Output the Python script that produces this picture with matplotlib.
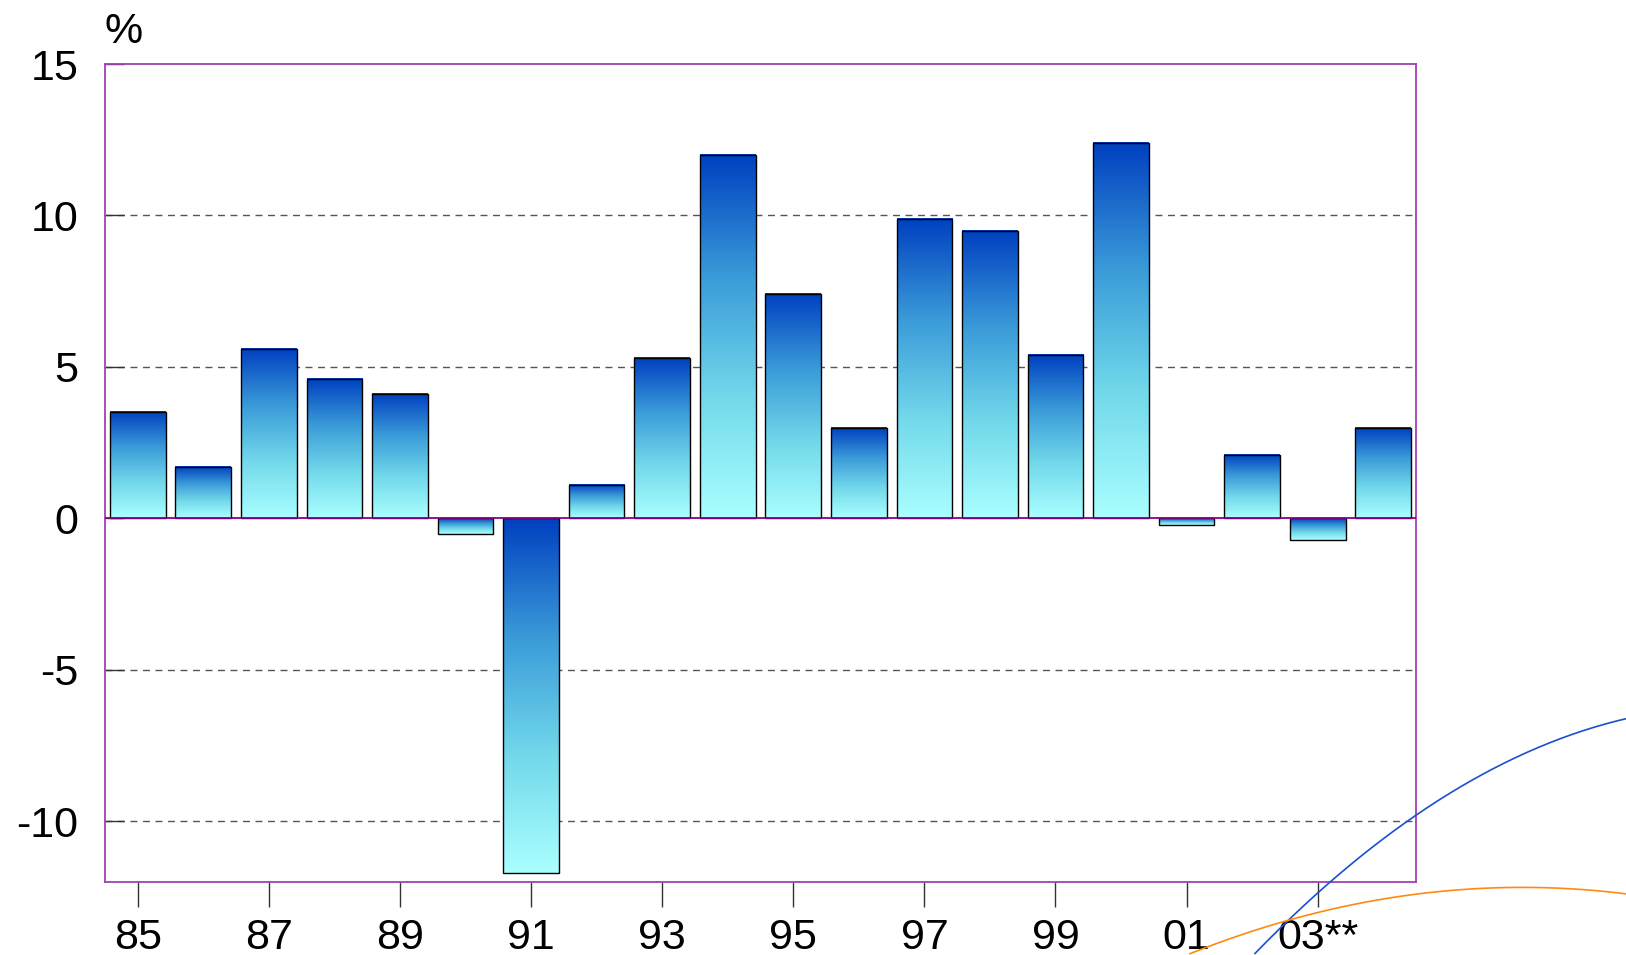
import numpy as np
import matplotlib
matplotlib.use("Agg")
import matplotlib.pyplot as plt
from matplotlib.colors import LinearSegmentedColormap
from matplotlib.lines import Line2D

plt.rcParams['font.family'] = ['Liberation Sans', 'DejaVu Sans']

# data
years = ['85', '86', '87', '88', '89', '90', '91', '92', '93', '94',
         '95', '96', '97', '98', '99', '00', '01', '02', '03', '04']
values = [3.5, 1.7, 5.6, 4.6, 4.1, -0.5, -11.7, 1.1, 5.3, 12.0,
          7.4, 3.0, 9.9, 9.5, 5.4, 12.4, -0.2, 2.1, -0.7, 3.0]
tick_labels = ['85', '87', '89', '91', '93', '95', '97', '99', '01', '03**']
y_ticks = [-10, -5, 0, 5, 10, 15]

# decorative swooshes (figure pixel coords)
blue_swoosh = [(1255, 955), (1327, 882), (1415, 816), (1500, 767), (1626, 718)]
orange_swoosh = [(1190, 955), (1287, 918), (1400, 897), (1510, 889), (1626, 893)]

W, H = 1626, 955
fig = plt.figure(figsize=(W / 100, H / 100), dpi=100)
ax = fig.add_axes([105 / W, 1 - 882 / H, (1416 - 105) / W, (882 - 64) / H])

cmap = LinearSegmentedColormap.from_list('bars', ['#aaffff', '#72d8ea', '#3a9ad8', '#0040c0'])
grad = np.linspace(0, 1, 256).reshape(-1, 1)
bw = 0.85
x = np.arange(len(values))

for xi, v in zip(x, values):
    lo, hi = min(0, v), max(0, v)
    ax.imshow(grad, extent=[xi - bw / 2, xi + bw / 2, lo, hi], origin='lower',
              aspect='auto', cmap=cmap, zorder=2, interpolation='bilinear')
    ax.bar(xi, v, width=bw, facecolor='none', edgecolor='black', linewidth=1.0, zorder=3)

for yv in [10, 5, -5, -10]:
    ax.axhline(yv, color='#555555', linestyle=(0, (5, 4)), linewidth=1.0, zorder=1)
ax.axhline(0, color='#880088', linewidth=1.3, zorder=4)

ax.set_xlim(-0.5, len(values) - 0.5)
ax.set_ylim(-12, 15)
ax.set_xticks(x[::2])
ax.set_xticklabels(tick_labels)
ax.set_yticks(y_ticks)
ax.set_yticklabels(['-10', '-5', '0', '5', '10', '15'])
ax.tick_params(axis='x', direction='out', length=18, width=1, color='#333333',
               labelsize=31, pad=8)
ax.tick_params(axis='y', direction='in', length=14, width=1, color='#333333',
               labelsize=31, pad=19)
for s in ax.spines.values():
    s.set_color('#a040b0')
    s.set_linewidth(1.3)

fig.text(104 / W, 1 - 32 / H, '%', fontsize=31, va='center', ha='left')

# decorative curves
for pts, col in [(blue_swoosh, '#1a50d0'), (orange_swoosh, '#ff8a10')]:
    px = np.array([p[0] for p in pts], float)
    py = np.array([p[1] for p in pts], float)
    c = np.polyfit(px, py, 2)
    xx = np.linspace(px[0], px[-1], 200)
    yy = np.polyval(c, xx)
    fig.add_artist(Line2D(xx / W, 1 - yy / H, color=col, linewidth=1.2,
                          transform=fig.transFigure, zorder=10))

fig.savefig('out.png', dpi=100)
